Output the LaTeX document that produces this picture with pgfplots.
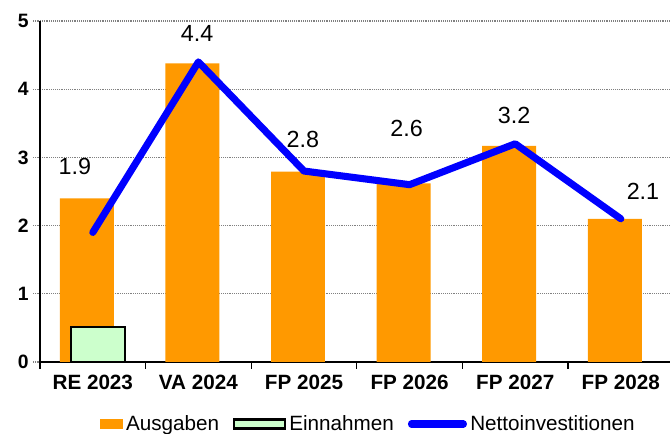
\documentclass[border=0pt]{standalone}
\usepackage{fontspec}
\setmainfont{Liberation Sans}
\usepackage{pgfplots}
\pgfplotsset{compat=1.18}
\definecolor{ausg}{HTML}{FF9900}
\definecolor{einn}{HTML}{CCFFCC}
\definecolor{netto}{HTML}{0000FF}
\begin{document}
\begin{tikzpicture}
\begin{axis}[
  name=ax,
  scale only axis,
  width=472.5pt, height=255.75pt,
  xmin=-0.5, xmax=5.466,
  ymin=0, ymax=5,
  axis x line=bottom, axis y line=left,
  axis line style={-, black, line width=0.9pt},
  clip=false,
  tick align=outside,
  major tick length=5pt,
  ytick={0,1,2,3,4,5},
  ymajorgrids,
  grid style={densely dotted, gray, line width=0.8pt},
  ytick style={densely dotted, gray, line width=0.8pt},
  /pgf/number format/assume math mode=true,
  yticklabel style={font=\bfseries\fontsize{14.5}{17}\selectfont},
  xtick={-0.5,0.5,1.5,2.5,3.5,4.5},
  xticklabels={},
  xtick style={black, line width=0.8pt},
  extra x ticks={0,1,2,3,4,5},
  extra x tick labels={RE 2023, VA 2024, FP 2025, FP 2026, FP 2027, FP 2028},
  extra x tick style={major tick length=0pt, tick style={draw=none},
     ticklabel style={font=\bfseries\fontsize{15.5}{18}\selectfont, yshift=-6pt}},
  legend columns=-1,
  legend style={at={(0.522,0)}, anchor=center, yshift=-46.5pt, draw=none, fill=none,
     font=\fontsize{15.5}{18}\selectfont,
     /tikz/every even column/.append style={column sep=8pt},
     nodes={inner sep=2.5pt}},
]
\addplot[ybar, bar width=0.511, bar shift=-0.057, fill=ausg, draw=none,
  legend image code/.code={\fill[ausg] (0pt,-3.75pt) rectangle (17.25pt,3.75pt);}]
  coordinates {(0,2.40) (1,4.38) (2,2.79) (3,2.62) (4,3.17) (5,2.10)};
\addlegendentry{Ausgaben}
\addplot[ybar, bar width=0.511, bar shift=0.047, fill=einn, draw=black, line width=1.6pt,
  legend image code/.code={\draw[fill=einn, draw=black, line width=1.6pt] (0pt,-3.4pt) rectangle (38pt,3.4pt);}]
  coordinates {(0,0.51)};
\addlegendentry{Einnahmen}
\addplot[netto, line width=5.3pt, line join=round, line cap=round, mark=none,
  legend image code/.code={\draw[netto, line width=5.3pt, line cap=round] (2pt,0pt) -- (41pt,0pt);}]
  coordinates {(0,1.9) (1,4.4) (2,2.8) (3,2.6) (4,3.2) (5,2.1)};
\addlegendentry{Nettoinvestitionen}
\addplot[draw=none, mark=none, forget plot, nodes near coords,
  point meta=explicit symbolic,
  nodes near coords style={anchor=center, font=\fontsize{17.5}{20}\selectfont, black}]
  table[meta=lab] {
x y lab
-0.169 2.86 1.9
0.987 4.82 4.4
1.990 3.26 2.8
2.971 3.42 2.6
3.989 3.62 3.2
5.210 2.50 2.1
};
\end{axis}
\pgfresetboundingbox
\path ([shift={(-30pt,-54pt)}]ax.south west) rectangle ++(502.5pt,325.5pt);
\end{tikzpicture}
\end{document}
